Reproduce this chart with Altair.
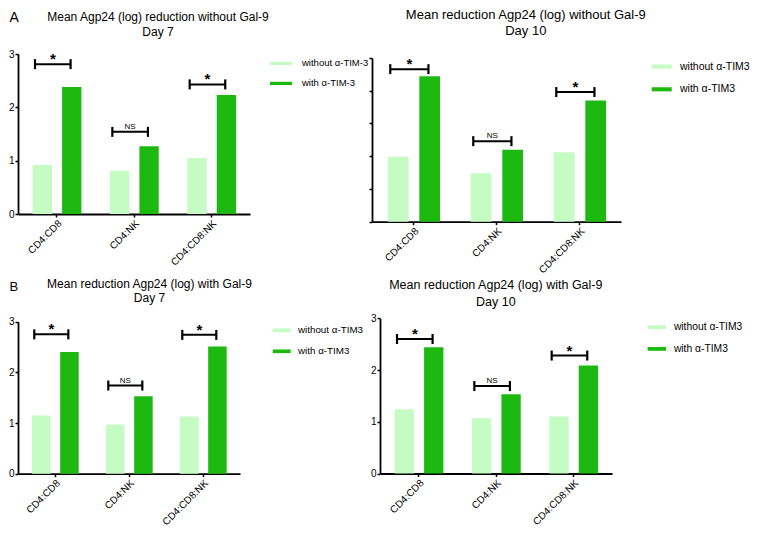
import altair as alt
import pandas as pd

# ---------------- data ----------------
categories = ["CD4:CD8", "CD4:NK", "CD4:CD8:NK"]
significance = ["*", "NS", "*"]

# A, Day 7 (without Gal-9)
a7_without = [0.92, 0.81, 1.05]
a7_with = [2.38, 1.27, 2.23]
a7_bracket = [2.81, 1.54, 2.43]

# A, Day 10 (without Gal-9)
a10_without = [0.99, 0.74, 1.06]
a10_with = [2.22, 1.10, 1.85]
a10_bracket = [2.33, 1.23, 1.98]

# B, Day 7 (with Gal-9)
b7_without = [1.15, 0.97, 1.13]
b7_with = [2.40, 1.53, 2.51]
b7_bracket = [2.75, 1.74, 2.74]

# B, Day 10 (with Gal-9)
b10_without = [1.24, 1.07, 1.10]
b10_with = [2.44, 1.53, 2.09]
b10_bracket = [2.60, 1.69, 2.28]

series_a7 = ["without \u03b1-TIM-3", "with \u03b1-TIM-3"]
series_tim3 = ["without \u03b1-TIM3", "with \u03b1-TIM3"]

title_a7 = ["Mean Agp24 (log) reduction without Gal-9", "Day 7"]
title_a10 = ["Mean reduction Agp24 (log) without Gal-9", "Day 10"]
title_b7 = ["Mean reduction Agp24 (log) with Gal-9", "Day 7"]
title_b10 = ["Mean reduction Agp24 (log) with Gal-9", "Day 10"]
panel_letters = ["A", "B"]

# ---------------- styling ----------------
FONT = "Liberation Sans"
LIGHT = "#c4fcc4"
DARK = "#1db910"
W, H = 744, 519

LIGHT_BAND = (0.19, 0.44)
DARK_BAND = (0.57, 0.82)
BRACKET_BAND = (0.22, 0.68)


def panel(without, with_, bracket, series, xr, yr, ydomain, yvalues, ylabels,
          leg_x, leg_y, leg_size, leg_path, leg_font, leg_offset, leg_rowpad):
    light_df = pd.DataFrame({"cat": categories, "series": series[0], "value": without})
    dark_df = pd.DataFrame({"cat": categories, "series": series[1], "value": with_})
    br_df = pd.DataFrame({"cat": categories, "yb": bracket, "sig": significance})

    xscale = alt.Scale(domain=categories, range=xr, paddingInner=0, paddingOuter=0)
    yscale = alt.Scale(domain=ydomain, range=yr, nice=False, zero=True)
    xaxis = alt.Axis(orient="bottom", offset=yr[0] - H, title=None, labelAngle=-45,
                     labelFontSize=10, labelPadding=1, tickSize=3, tickWidth=1.5,
                     domainWidth=1.8, domainColor="black", tickColor="black",
                     labelColor="black", grid=False)
    yaxis = alt.Axis(orient="left", offset=-xr[0], title=None, values=yvalues,
                     labels=ylabels, labelFontSize=10, labelPadding=1, tickSize=3,
                     tickWidth=1.5, domainWidth=1.8, domainColor="black",
                     tickColor="black", labelColor="black", grid=False)
    color = alt.Color(
        "series:N",
        scale=alt.Scale(domain=series, range=[LIGHT, DARK]),
        legend=alt.Legend(orient="none", legendX=leg_x, legendY=leg_y, title=None,
                          symbolType=leg_path, symbolSize=leg_size,
                          symbolStrokeWidth=0, symbolOpacity=1,
                          labelFontSize=leg_font, labelOffset=leg_offset,
                          rowPadding=leg_rowpad, padding=0, labelFont=FONT,
                          labelColor="black"),
    )

    def xenc(bp):
        return alt.X("cat:N", bandPosition=bp, scale=xscale, axis=xaxis)

    light = alt.Chart(light_df).mark_bar(orient="vertical").encode(
        x=xenc(LIGHT_BAND[0]), x2=alt.X2("cat", bandPosition=LIGHT_BAND[1]),
        y=alt.Y("value:Q", scale=yscale, axis=yaxis), color=color)
    dark = alt.Chart(dark_df).mark_bar(orient="vertical").encode(
        x=xenc(DARK_BAND[0]), x2=alt.X2("cat", bandPosition=DARK_BAND[1]),
        y=alt.Y("value:Q", scale=yscale, axis=yaxis), color=color)

    yb = alt.Y("yb:Q", scale=yscale, axis=yaxis)
    base = alt.Chart(br_df)
    rule = base.mark_rule(color="black", strokeWidth=2).encode(
        x=xenc(BRACKET_BAND[0]), x2=alt.X2("cat", bandPosition=BRACKET_BAND[1]), y=yb)
    cap_l = base.mark_tick(orient="vertical", color="black", size=10, thickness=2.2,
                           opacity=1).encode(x=xenc(BRACKET_BAND[0]), y=yb)
    cap_r = base.mark_tick(orient="vertical", color="black", size=10, thickness=2.2,
                           opacity=1).encode(x=xenc(BRACKET_BAND[1]), y=yb)
    mid = (BRACKET_BAND[0] + BRACKET_BAND[1]) / 2
    star = base.transform_filter(alt.datum.sig == "*").mark_text(
        fontSize=15, fontWeight="bold", font=FONT, baseline="alphabetic",
        color="black", dy=0).encode(x=xenc(mid), y=yb, text="sig:N")
    ns = base.transform_filter(alt.datum.sig == "NS").mark_text(
        fontSize=8, font=FONT, baseline="alphabetic", color="black",
        dy=-3).encode(x=xenc(mid), y=yb, text="sig:N")
    return alt.layer(light, dark, rule, cap_l, cap_r, star, ns)


def text_line(txt, x, y, size, align="center", baseline="middle"):
    return alt.Chart(pd.DataFrame({"t": [txt]})).mark_text(
        font=FONT, fontSize=size, align=align, baseline=baseline, color="black"
    ).encode(text="t:N", x=alt.value(x), y=alt.value(y))


PATH_FLAT = "M-1,-0.15L1,-0.15L1,0.15L-1,0.15Z"
PATH_BOX = "M-1,-0.205L1,-0.205L1,0.205L-1,0.205Z"

p_a7 = panel(a7_without, a7_with, a7_bracket, series_a7,
             xr=[10, 242], yr=[206, 46], ydomain=[0, 3], yvalues=[0, 1, 2, 3],
             ylabels=True, leg_x=262, leg_y=44.4, leg_size=484, leg_path=PATH_FLAT,
             leg_font=9.5, leg_offset=10, leg_rowpad=4)
p_a10 = panel(a10_without, a10_with, a10_bracket, series_tim3,
              xr=[364, 613], yr=[213.7, 50], ydomain=[0, 2.5],
              yvalues=[0, 0.5, 1, 1.5, 2, 2.5], ylabels=False,
              leg_x=643.7, leg_y=48.5, leg_size=400, leg_path=PATH_BOX,
              leg_font=10.5, leg_offset=8.3, leg_rowpad=6.8)
p_b7 = panel(b7_without, b7_with, b7_bracket, series_tim3,
             xr=[10, 232], yr=[465.7, 313.7], ydomain=[0, 3], yvalues=[0, 1, 2, 3],
             ylabels=True, leg_x=264.7, leg_y=313.3, leg_size=324, leg_path=PATH_BOX,
             leg_font=9.8, leg_offset=7.3, leg_rowpad=7)
p_b10 = panel(b10_without, b10_with, b10_bracket, series_tim3,
              xr=[372, 604], yr=[465.5, 310.3], ydomain=[0, 3], yvalues=[0, 1, 2, 3],
              ylabels=True, leg_x=639.3, leg_y=309.8, leg_size=339, leg_path=PATH_BOX,
              leg_font=10.3, leg_offset=7.6, leg_rowpad=6.6)

texts = [
    text_line(title_a7[0], 150, 9, 12), text_line(title_a7[1], 150, 24, 12),
    text_line(title_a10[0], 517.8, 7, 13), text_line(title_a10[1], 517.8, 22.5, 13),
    text_line(title_b7[0], 141.5, 276, 12), text_line(title_b7[1], 141.5, 290.3, 12),
    text_line(title_b10[0], 487.8, 277, 12.5), text_line(title_b10[1], 487.8, 293.7, 12.5),
    text_line(panel_letters[0], 1.5, 14, 14, align="left", baseline="alphabetic"),
    text_line(panel_letters[1], 1.5, 283, 13, align="left", baseline="alphabetic"),
]

chart = alt.layer(p_a7, p_a10, p_b7, p_b10, *texts).resolve_scale(
    x="independent", y="independent", color="independent"
).resolve_axis(
    x="independent", y="independent"
).resolve_legend(
    color="independent"
).properties(
    width=W, height=H, padding=0, autosize=alt.AutoSizeParams(type="none"),
    background="white"
).configure_view(stroke=None).configure_axis(labelFont=FONT)

chart.save("out.html", embed_options={"renderer": "svg", "actions": False})
